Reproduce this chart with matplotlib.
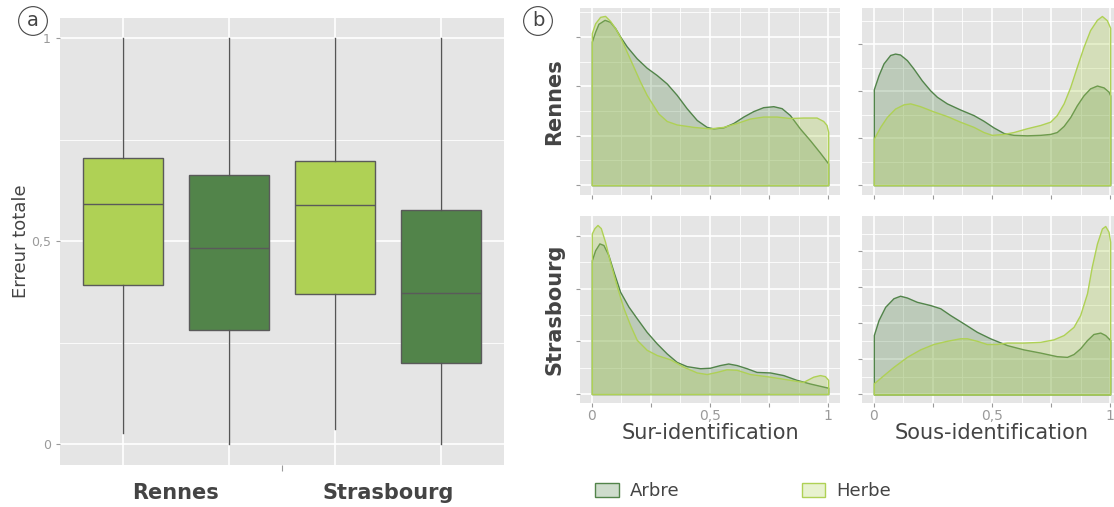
import numpy as np
import matplotlib
matplotlib.use("Agg")
import matplotlib.pyplot as plt
from matplotlib.patches import Patch
from matplotlib.ticker import FuncFormatter, MultipleLocator

# ---- data: panel a (boxplots of total error) ----
box_groups = ["Rennes", "Strasbourg"]
box_classes = ["Herbe", "Arbre", "Herbe", "Arbre"]
box_whislo = [0.027, 0.0, 0.037, 0.0]
box_q1 = [0.392, 0.281, 0.369, 0.200]
box_med = [0.591, 0.483, 0.589, 0.372]
box_q3 = [0.704, 0.663, 0.697, 0.576]
box_whishi = [1.0, 1.0, 1.0, 1.0]

# ---- data: panel b (densities) ----
ren_sur_arbre_x = [0, 0.014, 0.028, 0.054, 0.077, 0.099, 0.12, 0.148, 0.19, 0.232, 0.275, 0.317, 0.359,
                   0.401, 0.444, 0.486, 0.514, 0.556, 0.599, 0.641, 0.683, 0.725, 0.768, 0.803, 0.838,
                   0.88, 0.923, 0.965, 1.0]
ren_sur_arbre_y = [2.91, 3.11, 3.27, 3.35, 3.31, 3.18, 3.01, 2.81, 2.57, 2.38, 2.23, 2.06, 1.83,
                   1.56, 1.32, 1.18, 1.15, 1.17, 1.26, 1.39, 1.50, 1.58, 1.60, 1.56, 1.42,
                   1.15, 0.91, 0.66, 0.44]
ren_sur_herbe_x = [0, 0.014, 0.035, 0.056, 0.077, 0.099, 0.12, 0.148, 0.176, 0.204, 0.232, 0.254, 0.282,
                   0.317, 0.359, 0.43, 0.5, 0.556, 0.613, 0.669, 0.725, 0.782, 0.838, 0.894, 0.951,
                   0.979, 0.993, 1.0]
ren_sur_herbe_y = [3.08, 3.28, 3.41, 3.43, 3.33, 3.18, 3.00, 2.70, 2.40, 2.10, 1.83, 1.66, 1.45,
                   1.30, 1.23, 1.18, 1.15, 1.18, 1.26, 1.35, 1.39, 1.39, 1.36, 1.37, 1.37,
                   1.30, 1.22, 1.08]

ren_sous_arbre_x = [0, 0.02, 0.041, 0.069, 0.09, 0.111, 0.14, 0.168, 0.203, 0.238, 0.267, 0.309, 0.365,
                    0.422, 0.464, 0.506, 0.549, 0.591, 0.647, 0.704, 0.746, 0.774, 0.803, 0.831, 0.859,
                    0.887, 0.915, 0.944, 0.972, 0.993, 1.0]
ren_sous_arbre_y = [2.04, 2.34, 2.59, 2.77, 2.80, 2.78, 2.66, 2.48, 2.23, 2.02, 1.88, 1.74, 1.61,
                    1.49, 1.37, 1.23, 1.11, 1.07, 1.06, 1.07, 1.09, 1.13, 1.26, 1.45, 1.70,
                    1.91, 2.06, 2.12, 2.08, 1.99, 1.91]
ren_sous_herbe_x = [0, 0.027, 0.055, 0.09, 0.126, 0.154, 0.196, 0.252, 0.309, 0.365, 0.422, 0.464, 0.499,
                    0.549, 0.591, 0.647, 0.704, 0.746, 0.774, 0.803, 0.831, 0.859, 0.887, 0.915, 0.944,
                    0.965, 0.986, 1.0]
ren_sous_herbe_y = [0.99, 1.24, 1.45, 1.63, 1.72, 1.74, 1.68, 1.57, 1.47, 1.35, 1.24, 1.13, 1.07,
                    1.09, 1.13, 1.21, 1.28, 1.35, 1.49, 1.74, 2.09, 2.52, 2.94, 3.30, 3.52,
                    3.60, 3.51, 3.35]

str_sur_arbre_x = [0, 0.014, 0.032, 0.049, 0.07, 0.092, 0.12, 0.155, 0.19, 0.232, 0.275, 0.317, 0.359,
                   0.401, 0.458, 0.5, 0.542, 0.577, 0.613, 0.655, 0.697, 0.754, 0.81, 0.866, 0.923, 1.0]
str_sur_arbre_y = [2.54, 2.73, 2.86, 2.83, 2.64, 2.32, 1.94, 1.66, 1.44, 1.18, 0.96, 0.77, 0.61,
                   0.53, 0.49, 0.50, 0.55, 0.58, 0.55, 0.49, 0.42, 0.41, 0.36, 0.27, 0.20, 0.12]
str_sur_herbe_x = [0, 0.011, 0.024, 0.038, 0.056, 0.077, 0.106, 0.134, 0.162, 0.19, 0.232, 0.275, 0.331,
                   0.387, 0.444, 0.486, 0.528, 0.57, 0.613, 0.669, 0.754, 0.838, 0.894, 0.937, 0.965,
                   0.986, 1.0]
str_sur_herbe_y = [3.05, 3.15, 3.21, 3.15, 2.89, 2.51, 2.04, 1.63, 1.31, 1.03, 0.84, 0.74, 0.66,
                   0.52, 0.41, 0.38, 0.42, 0.47, 0.46, 0.38, 0.33, 0.27, 0.23, 0.33, 0.36,
                   0.34, 0.27]

str_sous_arbre_x = [0, 0.02, 0.048, 0.083, 0.111, 0.14, 0.182, 0.238, 0.281, 0.323, 0.379, 0.436, 0.492,
                    0.563, 0.633, 0.704, 0.774, 0.817, 0.845, 0.873, 0.902, 0.929, 0.958, 0.979, 1.0]
str_sous_arbre_y = [1.66, 2.08, 2.45, 2.69, 2.76, 2.71, 2.59, 2.50, 2.41, 2.22, 1.99, 1.75, 1.57,
                    1.38, 1.26, 1.17, 1.07, 1.05, 1.13, 1.29, 1.52, 1.69, 1.73, 1.66, 1.52]
str_sous_herbe_x = [0, 0.041, 0.083, 0.14, 0.196, 0.252, 0.309, 0.365, 0.394, 0.436, 0.478, 0.52, 0.563,
                    0.633, 0.704, 0.76, 0.803, 0.845, 0.873, 0.902, 0.922, 0.944, 0.965, 0.979, 0.993, 1.0]
str_sous_herbe_y = [0.31, 0.54, 0.77, 1.05, 1.26, 1.41, 1.50, 1.57, 1.57, 1.50, 1.41, 1.41, 1.45,
                    1.45, 1.47, 1.54, 1.66, 1.89, 2.22, 2.83, 3.57, 4.22, 4.64, 4.71, 4.55, 4.27]

facet_rows = ["Rennes", "Strasbourg"]
facet_cols = ["Sur-identification", "Sous-identification"]
legend_labels = ["Arbre", "Herbe"]

DARK = "#52844A"
LIGHT = "#AFD155"
BG = "#E5E5E5"
TXT = "#444444"
TICK = "#9A9A9A"
colors = {"Arbre": DARK, "Herbe": LIGHT}

comma = FuncFormatter(lambda v, p: ("%g" % v).replace(".", ","))

W, H = 1114, 507
fig = plt.figure(figsize=(W / 100, H / 100), dpi=100)


def px_axes(x0, y0, x1, y1):
    return fig.add_axes([x0 / W, 1 - y1 / H, (x1 - x0) / W, (y1 - y0) / H])


def style(ax):
    ax.set_facecolor(BG)
    for s in ax.spines.values():
        s.set_visible(False)
    ax.tick_params(which="major", colors=TICK, labelcolor=TICK, labelsize=9, length=3, width=0.8)
    ax.tick_params(which="minor", length=0)
    ax.grid(which="major", color="white", lw=1.2)
    ax.grid(which="minor", color="white", lw=0.6)
    ax.set_axisbelow(True)


# ---------------- panel a ----------------
ax = px_axes(60, 18, 504, 465)
style(ax)
positions = np.arange(1, len(box_med) + 1)
stats = []
for i in range(len(box_med)):
    stats.append(dict(whislo=box_whislo[i], q1=box_q1[i], med=box_med[i],
                      q3=box_q3[i], whishi=box_whishi[i], fliers=[]))
bp = ax.bxp(stats, positions=positions, widths=0.75, patch_artist=True,
            showcaps=False, showfliers=False,
            boxprops=dict(edgecolor="#5A5A5A", lw=1),
            medianprops=dict(color="#5A5A5A", lw=1),
            whiskerprops=dict(color="#555555", lw=1))
for patch, cls in zip(bp["boxes"], box_classes):
    patch.set_facecolor(colors[cls])
ax.set_xlim(0.406, 4.594)
ax.set_ylim(-0.052, 1.05)
ax.yaxis.set_major_locator(MultipleLocator(0.5))
ax.yaxis.set_minor_locator(MultipleLocator(0.25))
ax.yaxis.set_major_formatter(comma)
ax.grid(axis="x", which="both", visible=False)
for p in positions:
    ax.axvline(p, color="white", lw=1.2, zorder=0.5)
ax.set_xticks([1.5, 3.5])
ax.set_xticklabels(box_groups, fontsize=15, fontweight="bold", color=TXT)
ax.tick_params(axis="x", which="major", length=0, pad=13, labelcolor=TXT, labelsize=15)
ax.set_xticks([2.5], minor=True)
ax.tick_params(axis="x", which="minor", length=4, color=TICK, width=0.8)
ax.set_ylabel("Erreur totale", fontsize=13, color=TXT, labelpad=1)

# ---------------- panel b ----------------
curves = {
    (0, 0): (ren_sur_arbre_x, ren_sur_arbre_y, ren_sur_herbe_x, ren_sur_herbe_y),
    (0, 1): (ren_sous_arbre_x, ren_sous_arbre_y, ren_sous_herbe_x, ren_sous_herbe_y),
    (1, 0): (str_sur_arbre_x, str_sur_arbre_y, str_sur_herbe_x, str_sur_herbe_y),
    (1, 1): (str_sous_arbre_x, str_sous_arbre_y, str_sous_herbe_x, str_sous_herbe_y),
}
ylims = {(0, 0): (-0.2, 3.59), (0, 1): (-0.21, 3.77), (1, 0): (-0.17, 3.38), (1, 1): (-0.24, 4.99)}
col_px = [580, 862]
row_px = [(8, 195), (216, 403)]
for (r, c), (ax_x, ax_y, hx, hy) in curves.items():
    a = px_axes(col_px[c], row_px[r][0], col_px[c] + 260, row_px[r][1])
    style(a)
    a.fill_between(ax_x, 0, ax_y, facecolor=(DARK, 0.28), edgecolor=DARK, lw=1)
    a.fill_between(hx, 0, hy, facecolor=(LIGHT, 0.3), edgecolor=LIGHT, lw=1)
    a.set_xlim(-0.05, 1.05)
    a.set_ylim(*ylims[(r, c)])
    a.xaxis.set_major_locator(MultipleLocator(0.25))
    a.xaxis.set_minor_locator(MultipleLocator(0.125))
    a.yaxis.set_major_locator(MultipleLocator(1))
    a.yaxis.set_minor_locator(MultipleLocator(0.5))
    a.set_yticklabels([])
    if r == 0:
        a.set_xticklabels([])
    else:
        a.xaxis.set_major_formatter(
            FuncFormatter(lambda v, p: comma(v, p) if abs(v * 2 - round(v * 2)) < 1e-9 else ""))
        a.tick_params(axis="x", labelsize=10, pad=1)
        a.set_xlabel(facet_cols[c], fontsize=15, color=TXT, labelpad=0)

for r, name in enumerate(facet_rows):
    yc = (row_px[r][0] + row_px[r][1]) / 2
    fig.text(554 / W, 1 - yc / H, name, rotation=90, ha="center", va="center",
             fontsize=15, fontweight="bold", color=TXT)

# panel tags
for tag, x in (("a", 33), ("b", 538)):
    fig.text(x / W, 1 - 21 / H, tag, ha="center", va="center", fontsize=14, color=TXT,
             bbox=dict(boxstyle="circle,pad=0.25", fc="white", ec=TXT, lw=0.8))

# legend
handles = [Patch(facecolor=(colors[k], 0.28), edgecolor=colors[k], lw=1) for k in legend_labels]
leg = fig.legend(handles, legend_labels, loc="center", bbox_to_anchor=(743 / W, 1 - 491 / H),
                 ncol=2, frameon=False, fontsize=13, handlelength=1.3, handleheight=0.85,
                 handletextpad=0.6, columnspacing=6.8)
for t in leg.get_texts():
    t.set_color(TXT)

fig.savefig("out.png", dpi=100)
